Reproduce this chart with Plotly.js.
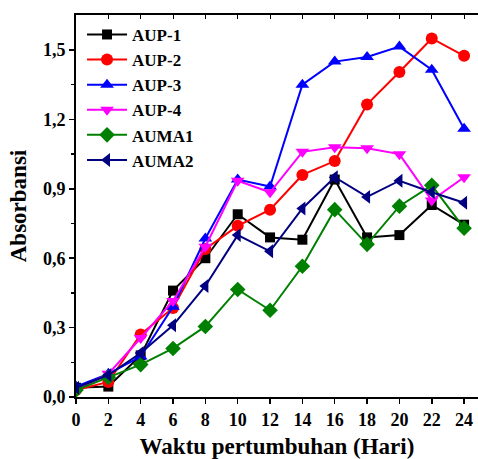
<!DOCTYPE html>
<html>
<head>
<meta charset="utf-8">
<script src="https://cdn.plot.ly/plotly-3.0.1.min.js"></script>
<style>html,body{margin:0;padding:0;background:#fff;}#chart{width:478px;height:459px;}</style>
</head>
<body>
<div id="chart"></div>
<script>
var days = [0, 2, 4, 6, 8, 10, 12, 14, 16, 18, 20, 22, 24];
var aup1  = [0.04, 0.045, 0.18, 0.46, 0.60, 0.79, 0.69, 0.68, 0.94, 0.69, 0.70, 0.83, 0.745];
var aup2  = [0.03, 0.065, 0.27, 0.385, 0.64, 0.74, 0.81, 0.96, 1.02, 1.265, 1.405, 1.55, 1.475];
var aup3  = [0.045, 0.10, 0.175, 0.39, 0.685, 0.94, 0.91, 1.35, 1.45, 1.47, 1.515, 1.415, 1.16];
var aup4  = [0.03, 0.10, 0.255, 0.415, 0.65, 0.935, 0.885, 1.06, 1.08, 1.075, 1.05, 0.85, 0.95];
var auma1 = [0.03, 0.085, 0.14, 0.21, 0.305, 0.465, 0.375, 0.565, 0.81, 0.66, 0.825, 0.915, 0.73];
var auma2 = [0.04, 0.095, 0.19, 0.31, 0.48, 0.70, 0.63, 0.815, 0.95, 0.865, 0.935, 0.885, 0.84];

var names   = ['AUP-1', 'AUP-2', 'AUP-3', 'AUP-4', 'AUMA1', 'AUMA2'];
var series  = [aup1, aup2, aup3, aup4, auma1, auma2];
var colors  = ['#000000', '#ff0000', '#0000ff', '#ff00ff', '#008000', '#000080'];
var symbols = ['square', 'circle', 'triangle-up', 'triangle-down', 'diamond', 'triangle-left'];
var sizes   = [10, 12, 12, 12, 12, 12];

var traces = series.map(function (s, i) {
  return {
    x: days, y: s, name: names[i], type: 'scatter', mode: 'lines+markers',
    line: {color: colors[i], width: 2},
    marker: {color: colors[i], symbol: symbols[i], size: sizes[i]}
  };
});

var font = "Liberation Serif";
var layout = {
  width: 478, height: 459,
  margin: {l: 76, r: 0, t: 15, b: 62},
  paper_bgcolor: '#fff', plot_bgcolor: '#fff',
  separators: ',.',
  font: {family: font, color: '#000', size: 16, weight: 'bold'},
  showlegend: true,
  legend: {x: 0.015, y: 0.995, xanchor: 'left', yanchor: 'top', bgcolor: 'rgba(0,0,0,0)',
           font: {family: font, size: 17, color: '#000', weight: 'bold'},
           traceorder: 'normal', itemwidth: 40},
  xaxis: {
    range: [0, 24.86], tickvals: days, ticktext: days.map(String),
    ticks: 'outside', ticklen: 5, tickwidth: 1.5, tickcolor: '#000',
    showline: true, linecolor: '#000', linewidth: 2, showgrid: false, zeroline: false,
    tickfont: {family: font, size: 18, color: '#000', weight: 'bold'},
    title: {text: 'Waktu pertumbuhan (Hari)', font: {family: font, size: 23, color: '#000', weight: 'bold'}, standoff: 19}
  },
  xaxis2: {
    range: [0, 24.86], overlaying: 'x', side: 'top', tickvals: days,
    ticks: 'inside', ticklen: 4, tickwidth: 1, tickcolor: '#000', showticklabels: false,
    showline: true, linecolor: '#000', linewidth: 2, showgrid: false, zeroline: false
  },
  yaxis: {
    range: [0, 1.6515], tickvals: [0, 0.3, 0.6, 0.9, 1.2, 1.5], tickformat: '.1f',
    ticks: 'outside', ticklen: 5, tickwidth: 1.5, tickcolor: '#000',
    minor: {tickvals: [0.15, 0.45, 0.75, 1.05, 1.35], ticks: 'outside', ticklen: 3, tickwidth: 1.5, tickcolor: '#000'},
    showline: true, linecolor: '#000', linewidth: 2, showgrid: false, zeroline: false,
    tickfont: {family: font, size: 18, color: '#000', weight: 'bold'},
    title: {text: 'Absorbansi', font: {family: font, size: 23, color: '#000', weight: 'bold'}, standoff: 10}
  }
};

traces.push({x: [0], y: [0], xaxis: 'x2', yaxis: 'y', mode: 'markers', marker: {opacity: 0}, showlegend: false, hoverinfo: 'skip'});

Plotly.newPlot('chart', traces, layout, {displayModeBar: false, staticPlot: true});
</script>
</body>
</html>
